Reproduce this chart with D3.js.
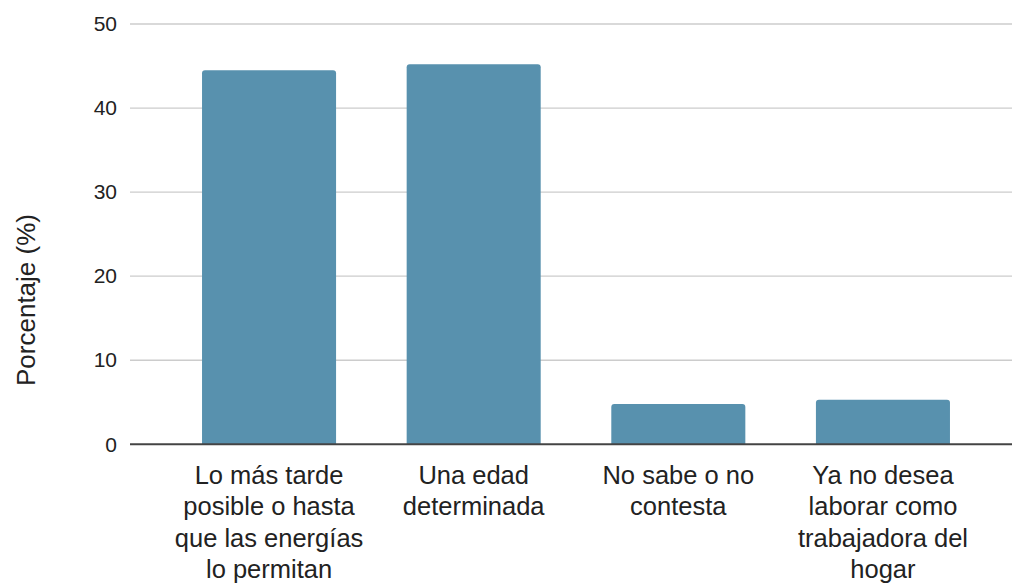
<!DOCTYPE html>
<html>
<head>
<meta charset="utf-8">
<script src="https://cdn.jsdelivr.net/npm/d3@7"></script>
<style>
html,body{margin:0;padding:0;background:#fff;}
svg{display:block;font-family:"Liberation Sans",Arial,sans-serif;}
</style>
</head>
<body>
<svg id="chart" width="1012" height="585"></svg>
<script>
const categories = [
  "Lo más tarde\nposible o hasta\nque las energías\nlo permitan",
  "Una edad\ndeterminada",
  "No sabe o no\ncontesta",
  "Ya no desea\nlaborar como\ntrabajadora del\nhogar"
];
const values = [44.5, 45.2, 4.8, 5.3];
const yTicks = [0, 10, 20, 30, 40, 50];
const yTitle = "Porcentaje (%)";

const svg = d3.select("#chart");
const left = 130, gridRight = 1012;
const x = d3.scaleBand().domain(categories).range([130, 1022]).paddingInner(0.345).paddingOuter(0.352);
const y = d3.scaleLinear().domain([0, 50]).range([444.3, 24]);

// gridlines
svg.append("g").selectAll("line").data(yTicks.filter(d => d !== 0)).join("line")
  .attr("x1", left).attr("x2", gridRight)
  .attr("y1", d => y(d)).attr("y2", d => y(d))
  .attr("stroke", "#cccccc").attr("stroke-width", 1.3);

// y tick labels
const yAxis = d3.axisLeft(y).tickValues(yTicks).tickSize(0).tickPadding(13);
const yg = svg.append("g").attr("transform", `translate(${left},0)`).call(yAxis);
yg.select(".domain").remove();
yg.selectAll("text").attr("font-size", 21).attr("fill", "#222")
  .attr("font-family", "Liberation Sans, Arial, sans-serif");

// bars with rounded top corners
const r = 3;
svg.append("g").selectAll("path").data(categories).join("path")
  .attr("fill", "#5891ae")
  .attr("d", (c, i) => {
    const x0 = x(c), w = x.bandwidth(), yt = y(values[i]), yb = y(0);
    return `M${x0},${yb}V${yt + r}Q${x0},${yt} ${x0 + r},${yt}H${x0 + w - r}Q${x0 + w},${yt} ${x0 + w},${yt + r}V${yb}Z`;
  });

// baseline
svg.append("line").attr("x1", left).attr("x2", gridRight)
  .attr("y1", y(0)).attr("y2", y(0))
  .attr("stroke", "#444").attr("stroke-width", 2);

// x labels
const xl = svg.append("g").selectAll("text").data(categories).join("text")
  .attr("text-anchor", "middle").attr("font-size", 25.5).attr("fill", "#222")
  .attr("x", c => x(c) + x.bandwidth() / 2).attr("y", 483.5);
xl.each(function(c) {
  const t = d3.select(this);
  c.split("\n").forEach((line, j) => {
    t.append("tspan").attr("x", x(c) + x.bandwidth() / 2)
      .attr("dy", j === 0 ? 0 : 31.5).text(line);
  });
});

// y title
svg.append("text").attr("transform", "translate(35,300) rotate(-90)")
  .attr("text-anchor", "middle").attr("font-size", 26).attr("fill", "#222")
  .text(yTitle);
</script>
</body>
</html>
